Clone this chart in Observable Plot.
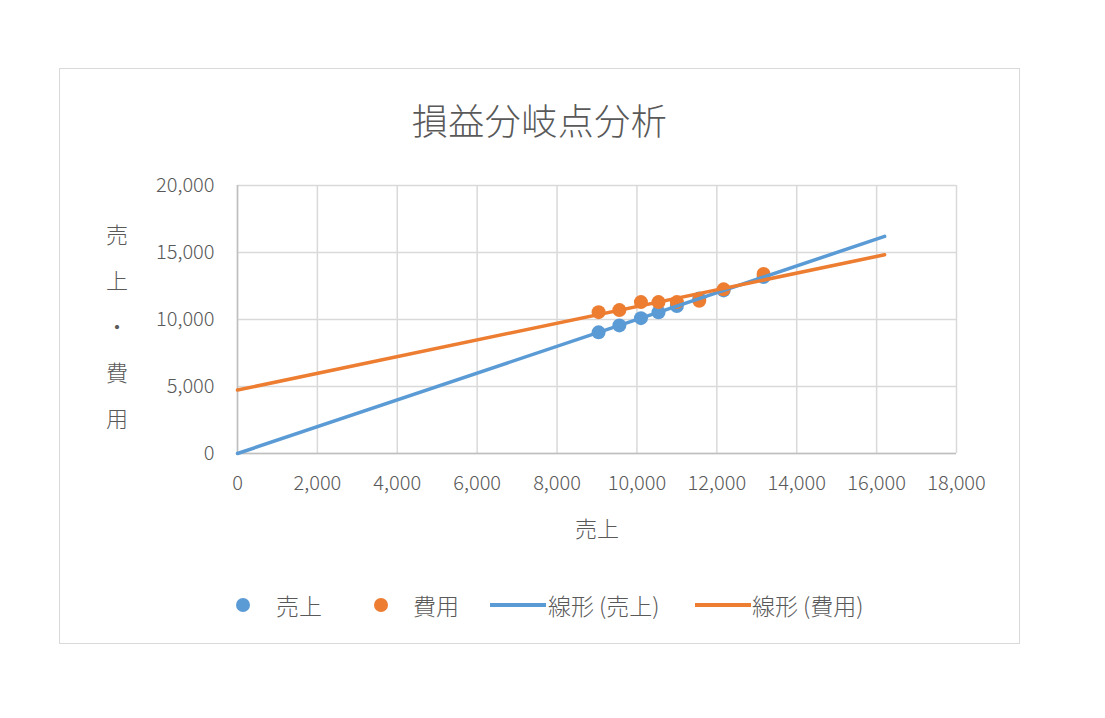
<!DOCTYPE html>
<html><head><meta charset="utf-8">
<script src="https://cdn.jsdelivr.net/npm/d3@7"></script>
<script src="https://cdn.jsdelivr.net/npm/@observablehq/plot@0.6"></script>
<style>
body{margin:0;background:#fff;font-family:"Noto Sans CJK JP","Noto Sans",sans-serif;color:#595959;}
#wrap{position:relative;width:1105px;height:718px;overflow:hidden;}
#frame{position:absolute;left:59px;top:68px;width:961px;height:576px;border:1px solid #d9d9d9;box-sizing:border-box;}
#title{position:absolute;left:59px;width:961px;top:95px;text-align:center;font-size:36px;font-weight:300;line-height:48px;letter-spacing:0.5px;}
#ylabel{position:absolute;left:97px;width:40px;top:210px;text-align:center;font-size:22px;font-weight:300;line-height:46px;}
#xlabel{position:absolute;left:537px;width:120px;top:510px;text-align:center;font-size:22px;font-weight:300;line-height:34px;}
#chart{position:absolute;left:0;top:0;}
.lg{position:absolute;top:590px;font-size:23px;font-weight:300;line-height:30px;white-space:nowrap;}
.dot{position:absolute;width:14px;height:14px;border-radius:50%;top:598px;}
.ln{position:absolute;height:4px;top:603px;}
</style>
</head><body>
<div id="wrap">
  <div id="frame"></div>
  <div id="chart"></div>
  <div id="title"></div>
  <div id="ylabel"></div>
  <div id="xlabel"></div>
  <div id="legend"></div>
</div>
<script>
// ---- data ----
const titleText = "損益分岐点分析";
const xLabelText = "売上";
const yLabelChars = ["売", "上", "・", "費", "用"];
const seriesNames = ["売上", "費用", "線形 (売上)", "線形 (費用)"];
const sales = [9040, 9560, 10100, 10540, 11000, 11560, 12170, 13170];
const costs = [10550, 10700, 11300, 11300, 11300, 11400, 12250, 13400];
const xTicks = [0, 2000, 4000, 6000, 8000, 10000, 12000, 14000, 16000, 18000];
const yTicks = [0, 5000, 10000, 15000, 20000];
const trendRange = [0, 16200];
const colors = ["#5B9BD5", "#ED7D31"];

// ---- build ----
const rows = sales.map((s, i) => ({sales: s, cost: costs[i]}));
function linreg(xs, ys) {
  const mx = d3.mean(xs), my = d3.mean(ys);
  let sxy = 0, sxx = 0;
  xs.forEach((x, i) => { sxy += (x - mx) * (ys[i] - my); sxx += (x - mx) ** 2; });
  const b = sxy / sxx;
  return {a: my - b * mx, b};
}
const regS = linreg(sales, sales);
const regC = linreg(sales, costs);
const trendS = trendRange.map(x => ({x, y: regS.a + regS.b * x}));
const trendC = trendRange.map(x => ({x, y: regC.a + regC.b * x}));

const fmt = d3.format(",");
const chart = Plot.plot({
  width: 1105, height: 718,
  marginLeft: 237, marginRight: 149, marginTop: 185, marginBottom: 265,
  style: {fontFamily: '"Noto Sans CJK JP","Noto Sans",sans-serif', fontSize: "20px", fontWeight: 300, color: "#595959", background: "transparent"},
  x: {domain: [0, 18000]},
  y: {domain: [0, 20000]},
  marks: [
    Plot.gridX(xTicks, {stroke: "#d9d9d9", strokeOpacity: 1, strokeWidth: 1.5}),
    Plot.gridY(yTicks, {stroke: "#d9d9d9", strokeOpacity: 1, strokeWidth: 1.5}),
    Plot.ruleX([0], {stroke: "#bfbfbf", strokeWidth: 1.5}),
    Plot.ruleY([0], {stroke: "#bfbfbf", strokeWidth: 1.5}),
    Plot.axisX(xTicks, {tickSize: 0, tickPadding: 22, tickFormat: fmt, label: null, fill: "#595959"}),
    Plot.axisY(yTicks, {tickSize: 0, tickPadding: 23, tickFormat: fmt, label: null, fill: "#595959"}),
    Plot.dot(rows, {x: "sales", y: "sales", r: 7, fill: colors[0], stroke: null}),
    Plot.dot(rows, {x: "sales", y: "cost", r: 7, fill: colors[1], stroke: null}),
    Plot.line(trendS, {x: "x", y: "y", stroke: colors[0], strokeWidth: 3.5}),
    Plot.line(trendC, {x: "x", y: "y", stroke: colors[1], strokeWidth: 3.5})
  ]
});
document.getElementById("chart").appendChild(chart);
document.getElementById("title").textContent = titleText;
document.getElementById("xlabel").textContent = xLabelText;
document.getElementById("ylabel").innerHTML = yLabelChars.map(c => `<div>${c}</div>`).join("");

const lg = document.getElementById("legend");
const items = [
  {type: "dot", color: colors[0], sx: 236, tx: 276, text: seriesNames[0]},
  {type: "dot", color: colors[1], sx: 374, tx: 413, text: seriesNames[1]},
  {type: "ln", color: colors[0], sx: 490, w: 56, tx: 548, text: seriesNames[2]},
  {type: "ln", color: colors[1], sx: 695, w: 56, tx: 752, text: seriesNames[3]}
];
items.forEach(it => {
  const m = document.createElement("div");
  m.className = it.type;
  m.style.left = it.sx + "px";
  m.style.background = it.color;
  if (it.type === "ln") m.style.width = it.w + "px";
  lg.appendChild(m);
  const t = document.createElement("div");
  t.className = "lg";
  t.style.left = it.tx + "px";
  t.textContent = it.text;
  lg.appendChild(t);
});
</script>
</body></html>
